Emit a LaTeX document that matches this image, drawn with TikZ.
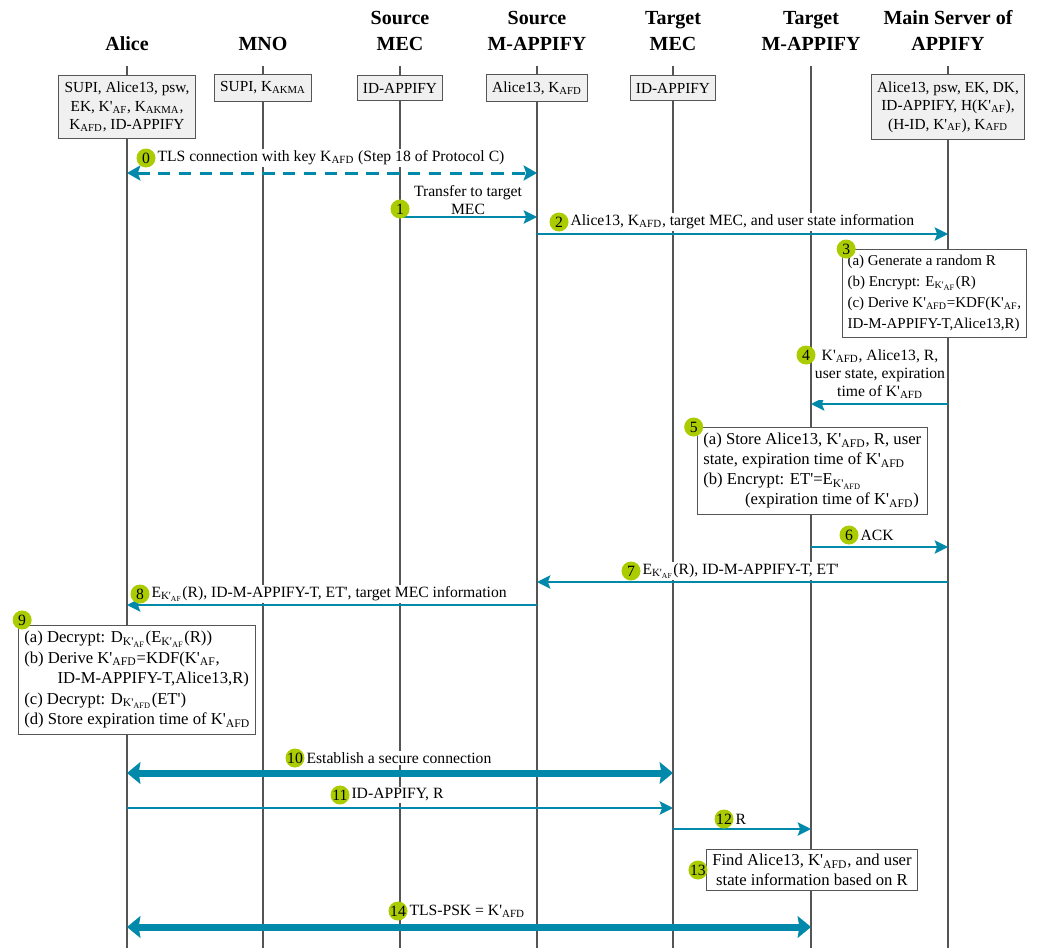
\documentclass[tikz,border=0pt]{standalone}
\usepackage{tikz}
\usepackage{fontspec}
\setmainfont{Liberation Serif}
\usetikzlibrary{math}
\usetikzlibrary{arrows.meta}
\usepackage{xcolor}

\definecolor{flow}{RGB}{0,137,171}
\definecolor{stepgreen}{RGB}{170,204,0}
\definecolor{lifegray}{RGB}{85,85,85}
\definecolor{headfill}{RGB}{240,240,240}

% keys and encryptions
\newcommand{\Kafd}{K\textsubscript{AFD}}
\newcommand{\Kakma}{K\textsubscript{AKMA}}
\newcommand{\Kpaf}{K\textquotesingle\textsubscript{AF}}
\newcommand{\Kpafd}{K\textquotesingle\textsubscript{AFD}}
\newcommand{\Ekpaf}{E\textsubscript{K\textquotesingle\textsubscript{AF}}}
\newcommand{\Dkpaf}{D\textsubscript{K\textquotesingle\textsubscript{AF}}}
\newcommand{\Ekpafd}{E\textsubscript{K\textquotesingle\textsubscript{AFD}}}
\newcommand{\Dkpafd}{D\textsubscript{K\textquotesingle\textsubscript{AFD}}}

\begin{document}
\begin{tikzpicture}[x=0.6pt, y=-0.6pt,
  every node/.style={font=\fontsize{9.4}{11}\selectfont},
  who/.style={font=\fontsize{12}{15.5}\selectfont\bfseries, align=center, anchor=south, inner sep=0pt, text depth=0pt},
  lifeline/.style={draw=lifegray, line width=1pt},
  keybox/.style={draw=lifegray, fill=headfill, align=center, inner xsep=3.5pt, inner ysep=4.3pt, line width=0.6pt,
    font=\fontsize{9.2}{11}\selectfont},
  notebox/.style={draw=lifegray, fill=white, inner sep=3.5pt, line width=0.6pt, font=\fontsize{10}{12}\selectfont},
  msg/.style={draw=flow, line width=1.2pt, -{Stealth[length=8pt, width=8pt, inset=1.5pt]}},
  msgdash/.style={draw=flow, line width=1.8pt, dash pattern=on 7.5pt off 5pt,
    {Stealth[length=8pt, width=9pt, inset=1.5pt]}-{Stealth[length=8pt, width=9pt, inset=1.5pt]}},
  msgfat/.style={draw=flow, line width=4.2pt,
    {Stealth[length=8pt, width=13pt, inset=1pt]}-{Stealth[length=8pt, width=13pt, inset=1pt]}},
  lbl/.style={fill=white, inner sep=0.8pt, anchor=west},
  stepnum/.style={circle, fill=stepgreen, inner sep=0pt, minimum size=11.4pt}]
\useasboundingbox (0,0) rectangle (1060,948);
\tikzmath{\colA = 127; \colB = 263; \colC = 400; \colD = 537;
          \colE = 673; \colF = 811; \colG = 948;}

% parties
\node[who] (alice) at (\colA,51) {Alice};
\node[who] (mno) at (\colB,51) {MNO};
\node[who] (smec) at (\colC,51) {Source\\MEC};
\node[who] (sapp) at (\colD,51) {Source\\M-APPIFY};
\node[who] (tmec) at (\colE,51) {Target\\MEC};
\node[who] (tapp) at (\colF,51) {Target\\M-APPIFY};
\node[who] (main) at (\colG,51) {Main Server of\\APPIFY};
\coordinate (bottom) at (0,948);

\foreach \p in {alice,mno,smec,sapp,tmec,tapp,main}
  \draw[lifeline] ([yshift=-9pt]\p.south) -- (\p |- bottom);

% what each party holds
\node[keybox] (kalice) at (\colA,107) {SUPI, Alice13, psw,\\EK, \Kpaf, \Kakma,\\\Kafd, ID-APPIFY};
\node[keybox] (kmno) at (\colB,88) {SUPI, \Kakma};
\node[keybox] (ksmec) at (\colC,88) {ID-APPIFY};
\node[keybox] (ksapp) at (\colD,88) {Alice13, \Kafd};
\node[keybox] (ktmec) at (\colE,88) {ID-APPIFY};
\node[keybox] (kmain) at (\colG,107) {Alice13, psw, EK, DK,\\ID-APPIFY, H(\Kpaf),\\(H-ID, \Kpaf), \Kafd};

% heights of the messages
\coordinate (m0) at (0,173);
\coordinate (m1) at (0,217);
\coordinate (m2) at (0,234);
\coordinate (m4) at (0,404);
\coordinate (m6) at (0,547);
\coordinate (m7) at (0,582);
\coordinate (m8) at (0,605);
\coordinate (m10) at (0,773);
\coordinate (m11) at (0,808);
\coordinate (m12) at (0,829);
\coordinate (m14) at (0,927);

% 0
\draw[msgdash] (alice |- m0) -- (sapp |- m0);
\node[stepnum] (n0) at (146,158) {0};
\node[lbl] (t0) at (n0.east) {TLS connection with key \Kafd{} (Step 18 of Protocol C)};
% 1
\draw[msg] (smec |- m1) -- (sapp |- m1);
\node[anchor=center, align=center, inner sep=0pt] (t1) at (468,200) {Transfer to target\\MEC};
\node[stepnum] (n1) at (400,209) {1};
% 2
\draw[msg] (sapp |- m2) -- (main |- m2);
\node[stepnum] (n2) at (559,222) {2};
\node[lbl] (t2) at (n2.east) {Alice13, \Kafd, target MEC, and user state information};
% 3
\node[notebox, anchor=north west, align=left, inner xsep=3pt, font=\fontsize{9}{12.6}\selectfont] (b3) at (842,249)
  {(a) Generate a random R\\(b) Encrypt: \Ekpaf(R)\\(c) Derive \Kpafd=KDF(\Kpaf,\\ID-M-APPIFY-T,Alice13,R)};
\node[stepnum] (n3) at ([xshift=2.5pt]b3.north west) {3};
% 4
\draw[msg] (main |- m4) -- (tapp |- m4);
\node[lbl, anchor=center, align=center] (t4) at (880,374) {\Kpafd, Alice13, R,\\user state, expiration\\time of \Kpafd};
\node[stepnum] (n4) at (806,355) {4};
% 5
\node[notebox, anchor=north west, align=left] (b5) at (697,427)
  {(a) Store Alice13, \Kpafd, R, user\\state, expiration time of \Kpafd\\(b) Encrypt: ET\textquotesingle=\Ekpafd\\\hspace*{25pt}(expiration time of \Kpafd)};
\node[stepnum] (n5) at ([xshift=-2pt]b5.north west) {5};
% 6
\draw[msg] (tapp |- m6) -- (main |- m6);
\node[stepnum] (n6) at (849,535) {6};
\node[lbl] (t6) at (n6.east) {ACK};
% 7
\draw[msg] (main |- m7) -- (sapp |- m7);
\node[stepnum] (n7) at (631,571) {7};
\node[lbl] (t7) at (n7.east) {\Ekpaf(R), ID-M-APPIFY-T, ET\textquotesingle};
% 8
\draw[msg] (sapp |- m8) -- (alice |- m8);
\node[stepnum] (n8) at (140,594) {8};
\node[lbl] (t8) at (n8.east) {\Ekpaf(R), ID-M-APPIFY-T, ET\textquotesingle, target MEC information};
% 9
\node[notebox, anchor=north west, align=left, font=\fontsize{10}{12.3}\selectfont] (b9) at (18,625)
  {(a) Decrypt: \Dkpaf(\Ekpaf(R))\\(b) Derive \Kpafd=KDF(\Kpaf,\\\hspace*{20pt}ID-M-APPIFY-T,Alice13,R)\\(c) Decrypt: \Dkpafd(ET\textquotesingle)\\(d) Store expiration time of \Kpafd};
\node[stepnum] (n9) at ([xshift=2.5pt, yshift=3pt]b9.north west) {9};
% 10
\draw[msgfat] (alice |- m10) -- (tmec |- m10);
\node[stepnum] (n10) at (295,758) {10};
\node[lbl] (t10) at (n10.east) {Establish a secure connection};
% 11
\draw[msg] (alice |- m11) -- (tmec |- m11);
\node[stepnum] (n11) at (340,795) {11};
\node[lbl] (t11) at (n11.east) {ID-APPIFY, R};
% 12
\draw[msg] (tmec |- m12) -- (tapp |- m12);
\node[stepnum] (n12) at (724,819) {12};
\node[lbl] (t12) at (n12.east) {R};
% 13
\node[notebox, align=center, inner ysep=2.5pt] (b13) at (812,870) {Find Alice13, \Kpafd, and user\\state information based on R};
\node[stepnum] (n13) at ([xshift=-4.8pt]b13.west) {13};
% 14
\draw[msgfat] (alice |- m14) -- (tapp |- m14);
\node[stepnum] (n14) at (398,911) {14};
\node[lbl] (t14) at (n14.east) {TLS-PSK = \Kpafd};
\end{tikzpicture}
\end{document}
